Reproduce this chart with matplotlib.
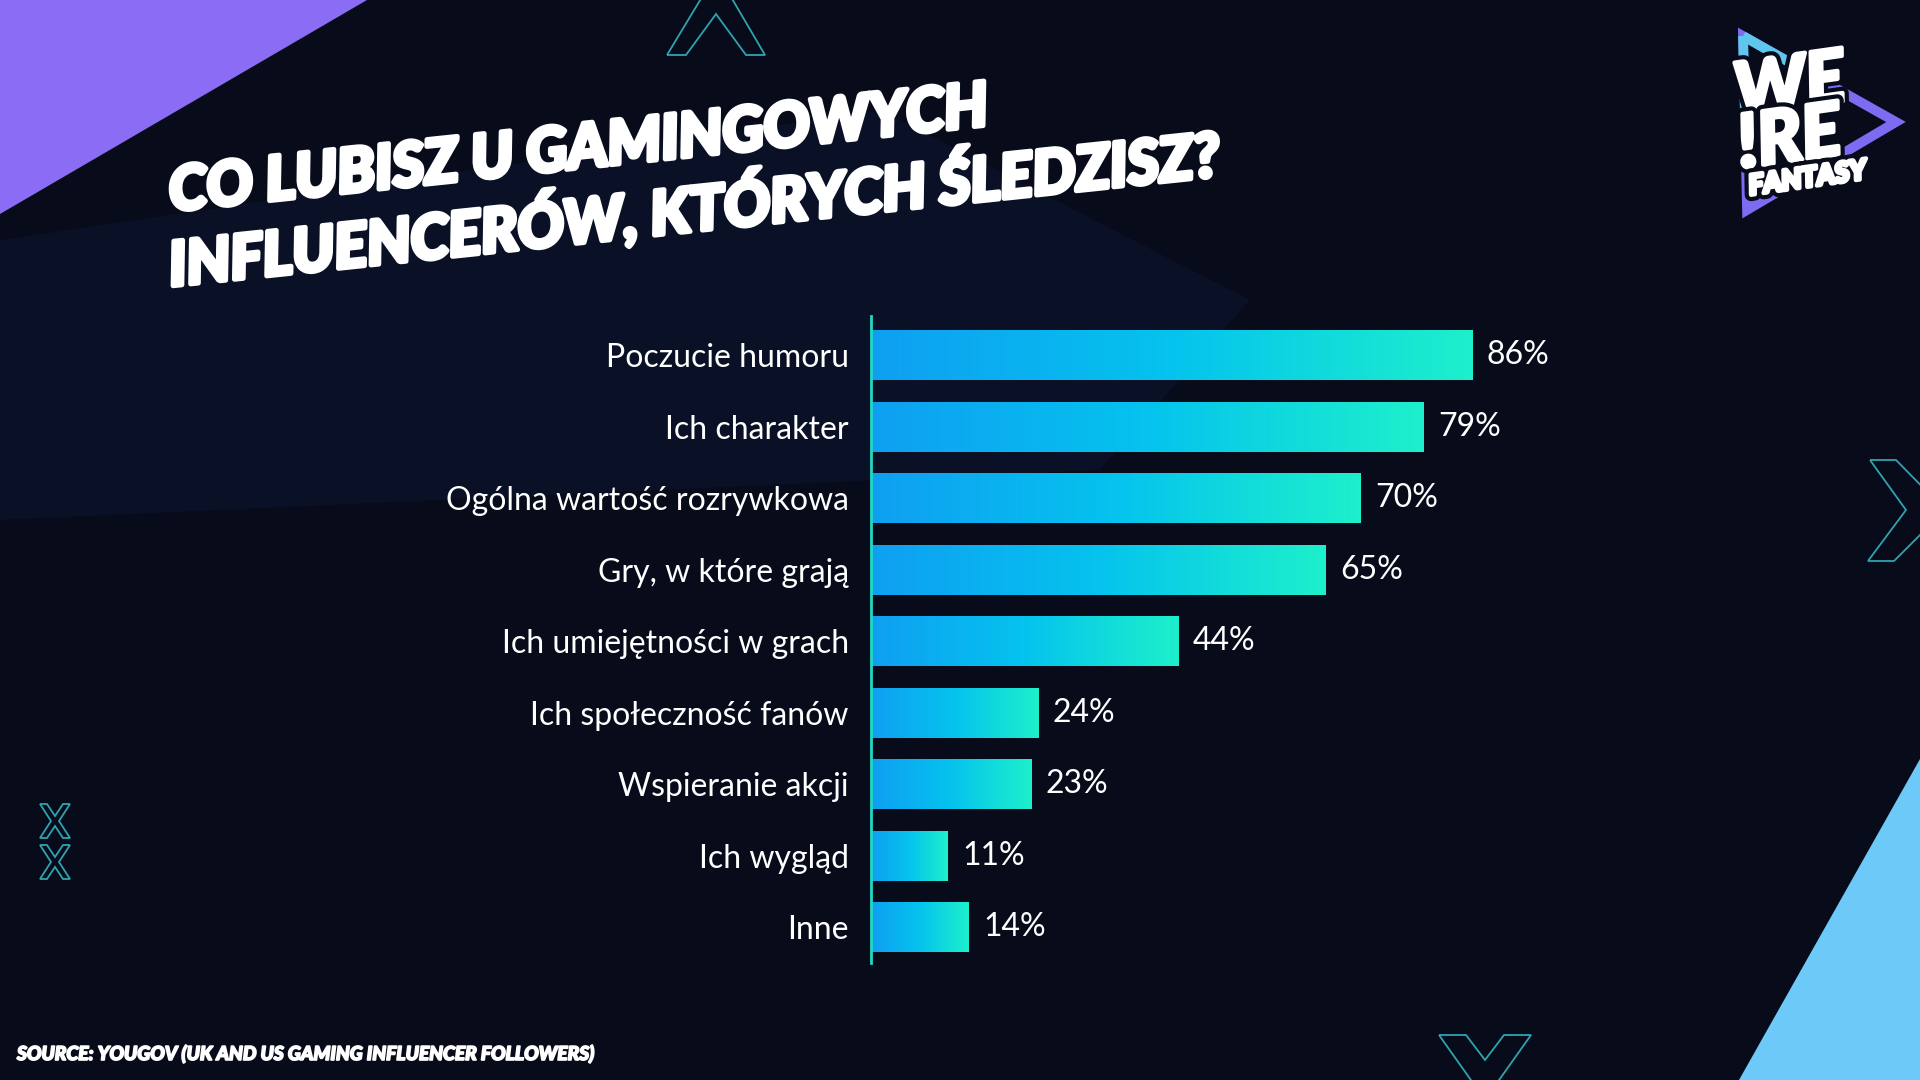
import numpy as np
import matplotlib
matplotlib.use("Agg")
import matplotlib.pyplot as plt
import matplotlib.patheffects as pe
from matplotlib.colors import LinearSegmentedColormap
from matplotlib.patches import Polygon

# data
categories = [
    "Poczucie humoru",
    "Ich charakter",
    "Ogólna wartość rozrywkowa",
    "Gry, w które grają",
    "Ich umiejętności w grach",
    "Ich społeczność fanów",
    "Wspieranie akcji",
    "Ich wygląd",
    "Inne",
]
values = [86, 79, 70, 65, 44, 24, 23, 11, 14]

title_lines = ["CO LUBISZ U GAMINGOWYCH", "INFLUENCERÓW, KTÓRYCH ŚLEDZISZ?"]
source_text = "SOURCE: YOUGOV (UK AND US GAMING INFLUENCER FOLLOWERS)"

BG = "#070b1a"
TEAL = "#2fa3b0"
bar_cmap = LinearSegmentedColormap.from_list("bars", ["#0f9ff2", "#05c3ee", "#1df0cb"])

plt.rcParams['font.family'] = ['Lato', 'DejaVu Sans']

fig = plt.figure(figsize=(19.2, 10.8), dpi=100)
fig.patch.set_facecolor(BG)

# background layer in pixel coordinates (y downwards)
bg = fig.add_axes([0, 0, 1, 1])
bg.set_xlim(0, 1920)
bg.set_ylim(1080, 0)
bg.axis("off")
bg.set_zorder(0)

# faint background panel
bg.add_patch(Polygon([(0, 240), (880, 110), (1250, 300), (1100, 470), (0, 520)],
                     closed=True, fc="#0a1025", ec="none", zorder=0))

# corner triangles
bg.add_patch(Polygon([(0, 0), (367, 0), (0, 214)], closed=True, fc="#8a6df4", ec="none", zorder=1))
bg.add_patch(Polygon([(1920, 759), (1920, 1080), (1739, 1080)], closed=True, fc="#6dcaf8", ec="none", zorder=1))

# chevron outlines
deco = dict(closed=True, fc="none", ec=TEAL, lw=1.3, zorder=2)
bg.add_patch(Polygon([(667, 55), (702, -3), (731, -3), (765, 55), (746, 55), (716, 14), (686, 55)], **deco))
bg.add_patch(Polygon([(1870, 460), (1896, 460), (1945, 510), (1894, 561), (1868, 561), (1906, 510)], **deco))
bg.add_patch(Polygon([(1439, 1035), (1466, 1035), (1485, 1060), (1504, 1035), (1531, 1035), (1492, 1090),
                      (1478, 1090)], **deco))
for cy in (821, 862):
    cx = 55
    pts = [(-15, -17), (-8, -17), (0, -5), (8, -17), (15, -17), (4, 0),
           (15, 17), (8, 17), (0, 5), (-8, 17), (-15, 17), (-4, 0)]
    bg.add_patch(Polygon([(cx + px, cy + py) for px, py in pts], **deco))

# logo
bg.add_patch(Polygon([(1743, 36), (1896, 122), (1747, 210)], closed=True, fc="none",
                     ec="#7d6cf2", lw=7, joinstyle="miter", zorder=3))
bg.plot([1743, 1810], [36, 74], color="#5fc6ee", lw=7, solid_capstyle="butt", zorder=3)
bg.plot([1743, 1745], [36, 110], color="#5fc6ee", lw=7, solid_capstyle="butt", zorder=3)
logo_fx = [pe.withStroke(linewidth=9, foreground=BG), pe.withStroke(linewidth=3, foreground="white"), pe.Normal()]
logo_kw = dict(color="white", fontweight="black", fontstyle="italic", rotation=8,
               rotation_mode="anchor", ha="left", va="baseline", zorder=4, path_effects=logo_fx)
bg.text(1738, 116, "WE", fontsize=53, **logo_kw)
bg.text(1741, 168, "!RE", fontsize=53, **logo_kw)
bg.text(1750, 195, "FANTASY", fontsize=20, **logo_kw)

# title
title_kw = dict(color="white", fontweight="black", fontstyle="italic", rotation=6,
                rotation_mode="anchor", ha="left", va="baseline", fontsize=44, zorder=4,
                path_effects=[pe.withStroke(linewidth=3.5, foreground="white")])
bg.text(171, 211, title_lines[0], **title_kw)
bg.text(171, 286, title_lines[1], **title_kw)

# source
bg.text(17, 1060, source_text, color="white", fontweight="black", fontstyle="italic",
        fontsize=13.8, ha="left", va="baseline", zorder=4,
        path_effects=[pe.withStroke(linewidth=1.2, foreground="white")])

# chart
ax = fig.add_axes([871 / 1920, (1080 - 963) / 1080, 700 / 1920, 647 / 1080])
ax.set_zorder(1)
ax.patch.set_alpha(0)
y = np.arange(len(categories))
bars = ax.barh(y, values, height=0.70, color="none", edgecolor="none")

grad = np.linspace(0, 1, 256).reshape(1, -1)
for b in bars:
    x0, y0 = b.get_x(), b.get_y()
    w, h = b.get_width(), b.get_height()
    im = ax.imshow(grad, cmap=bar_cmap, aspect="auto", extent=(x0, x0 + w, y0 + h, y0),
                   interpolation="bicubic", zorder=2)
    im.set_clip_path(b)

for yi, v in zip(y, values):
    ax.annotate(f"{v}%", (v, yi), xytext=(10, 0), textcoords="offset points",
                ha="left", va="center", color="white", fontsize=23)

ax.set_yticks(y)
ax.set_yticklabels(categories, color="white", fontsize=23)
ax.tick_params(axis="y", length=0, pad=16)
ax.set_xticks([])
for s in ("top", "right", "bottom"):
    ax.spines[s].set_visible(False)
ax.spines["left"].set_color("#22d8c4")
ax.spines["left"].set_linewidth(2)
ax.set_xlim(0, 100)
ax.set_ylim(8.5, -0.55)

fig.savefig("out.png", dpi=100, facecolor=BG)
